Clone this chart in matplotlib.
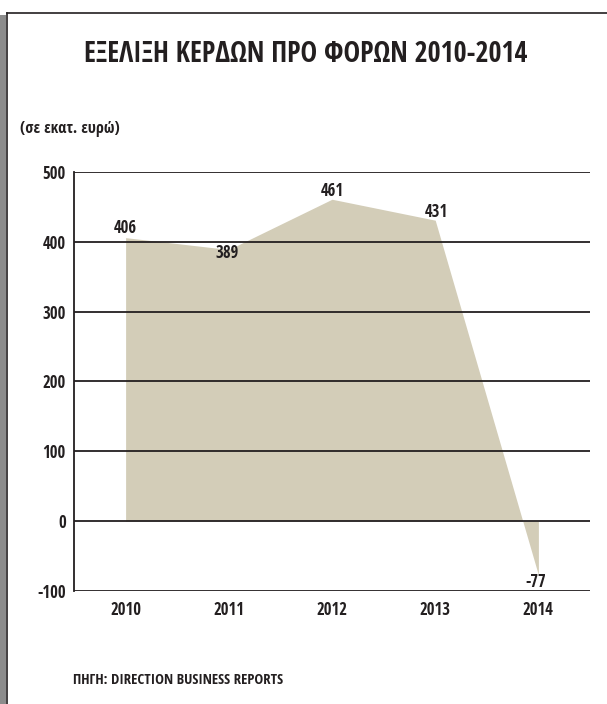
import matplotlib
matplotlib.use("Agg")
import matplotlib.pyplot as plt
from matplotlib.patches import Rectangle
from matplotlib.lines import Line2D

# data
years = ["2010", "2011", "2012", "2013", "2014"]
profits = [406, 389, 461, 431, -77]
yticks = [-100, 0, 100, 200, 300, 400, 500]

title = "ΕΞΕΛΙΞΗ ΚΕΡΔΩΝ ΠΡΟ ΦΟΡΩΝ 2010-2014"
unit_note = "(σε εκατ. ευρώ)"
source = "ΠΗΓΗ: DIRECTION BUSINESS REPORTS"

# style
ink = "#231f20"
fill_color = "#d3cdb8"
plt.rcParams["font.family"] = ["Open Sans Condensed", "DejaVu Sans"]
plt.rcParams["font.weight"] = "bold"

W, H = 607, 704
fig = plt.figure(figsize=(W / 100, H / 100), dpi=100)

# frame: grey strip on the left + dark border lines
fig.patches.append(Rectangle((0, 0), 6 / W, 1 - 15 / H, transform=fig.transFigure,
                             facecolor="#8c8c8c", edgecolor="none"))
fig.lines.append(Line2D([6.5 / W, 6.5 / W], [0, 1 - 12.5 / H], transform=fig.transFigure,
                        color=ink, lw=1.2))
fig.lines.append(Line2D([6.5 / W, 1], [1 - 12.5 / H, 1 - 12.5 / H], transform=fig.transFigure,
                        color=ink, lw=1.2))

ax = fig.add_axes([74 / W, 1 - 591 / H, (590 - 74) / W, (591 - 172) / H])
x = list(range(len(years)))

ax.fill_between(x, profits, 0, color=fill_color, lw=0, zorder=1)

for v in yticks:
    ax.axhline(v, color=ink, lw=1.3, zorder=2)

ax.set_xlim(-0.5, 4.5)
ax.set_ylim(yticks[0], yticks[-1])
ax.set_yticks(yticks)
ax.set_yticklabels([str(v) for v in yticks])
ax.set_xticks(x)
ax.set_xticklabels(years)
ax.tick_params(length=0, labelsize=12, colors=ink)
ax.tick_params(axis="y", pad=6)
ax.tick_params(axis="x", pad=7)
for lab in ax.get_xticklabels() + ax.get_yticklabels():
    lab.set_fontweight("bold")

for side in ["top", "right", "bottom"]:
    ax.spines[side].set_visible(False)
ax.spines["left"].set_color(ink)
ax.spines["left"].set_linewidth(1.3)

# value labels: baseline offsets in points from each data point
offsets = [(0, 3.3), (-1.4, -6.1), (0, 2.3), (0.7, 2.2), (-2, -8.9)]
for xi, v, off in zip(x, profits, offsets):
    ax.annotate(str(v), (xi, v), xytext=off, textcoords="offset points",
                ha="center", va="baseline", fontsize=12, fontweight="bold", color=ink)

fig.text(306 / W, 1 - 54 / H, title, ha="center", va="center",
         fontsize=20.2, fontweight="bold", color=ink)
fig.text(20 / W, 1 - 129 / H, unit_note, ha="left", va="center",
         fontsize=11.5, fontweight="bold", color=ink)
fig.text(73 / W, 1 - 680 / H, source, ha="left", va="center",
         fontsize=10.6, fontweight="bold", color=ink)

fig.savefig("out.png", dpi=100)
